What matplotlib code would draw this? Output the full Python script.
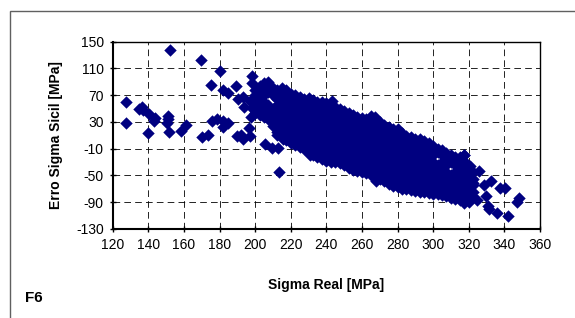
import matplotlib.pyplot as plt
from matplotlib.patches import Rectangle
from matplotlib.ticker import MultipleLocator

plt.rcParams['font.family'] = ['Liberation Sans', 'DejaVu Sans']
plt.rcParams['axes.unicode_minus'] = False

# dense band: Sigma Real columns and the Erro values read in each column
col_x = [200, 202.5, 205, 207.5, 210, 212.5, 215, 217.5, 220, 222.5,
         225, 227.5, 230, 232.5, 235, 237.5, 240, 242.5, 245, 247.5,
         250, 252.5, 255, 257.5, 260, 262.5, 265, 267.5, 270, 272.5,
         275, 277.5, 280, 282.5, 285, 287.5, 290, 292.5, 295, 297.5,
         300, 302.5, 305, 307.5, 310, 312.5, 315, 317.5, 320, 322.5]
col_y = [
    [44, 50, 60, 70, 78],
    [40, 45, 55, 65, 75, 84],
    [37, 40, 50, 60, 70, 80, 88],
    [34, 45, 55, 75, 85, 90],
    [24, 30, 40, 50, 70, 80],
    [10, 15, 25, 35, 45, 55, 65, 75, 78],
    [7, 10, 20, 30, 40, 50, 60, 70, 80],
    [3, 5, 15, 25, 35, 45, 55, 65, 75, 77],
    [-2, 0, 10, 20, 30, 40, 50, 60, 70, 72],
    [-4, 5, 15, 25, 35, 45, 55, 65, 70],
    [-7, 0, 10, 20, 30, 40, 50, 60, 68],
    [-10, -5, 5, 15, 25, 35, 45, 55, 65],
    [-17, -10, 0, 10, 20, 30, 40, 50, 60, 66],
    [-20, -15, -5, 5, 15, 25, 35, 45, 55, 63],
    [-22, -20, -10, 0, 10, 20, 30, 40, 50, 60],
    [-25, -15, -5, 5, 15, 25, 35, 45, 55, 60],
    [-28, -20, -10, 0, 10, 20, 30, 40, 50, 58],
    [-30, -25, -15, -5, 5, 15, 25, 35, 45, 55],
    [-30, -20, -10, 0, 10, 20, 30, 40, 50, 53],
    [-32, -25, -15, -5, 5, 15, 25, 35, 45, 50],
    [-35, -30, -20, -10, 0, 10, 20, 30, 40, 47],
    [-39, -35, -25, -15, -5, 5, 15, 25, 35, 44],
    [-42, -40, -30, -20, -10, 0, 10, 20, 30, 41],
    [-44, -35, -25, -15, -5, 5, 15, 25, 35, 38],
    [-45, -40, -30, -20, -10, 0, 10, 20, 30, 36],
    [-47, -45, -35, -25, -15, -5, 5, 15, 25, 35],
    [-49, -40, -30, -20, -10, 0, 10, 20, 30, 39],
    [-52, -45, -35, -25, -15, -5, 5, 15, 25, 35, 38],
    [-56, -50, -40, -30, -20, -10, 0, 10, 20, 30],
    [-59, -55, -45, -35, -25, -15, -5, 5, 15, 25],
    [-63, -60, -50, -40, -30, -20, -10, 0, 10, 20, 22],
    [-66, -55, -45, -35, -25, -15, -5, 5, 15, 20],
    [-68, -60, -50, -40, -30, -20, -10, 0, 10, 18],
    [-70, -65, -55, -45, -35, -25, -15, -5, 5, 14],
    [-71, -60, -50, -40, -30, -20, -10, 0, 9],
    [-72, -65, -55, -45, -35, -25, -15, -5, 5, 7],
    [-74, -70, -60, -50, -40, -30, -20, -10, 0, 4],
    [-75, -65, -55, -45, -35, -25, -15, -5, 4],
    [-75, -70, -60, -50, -40, -30, -20, -10, 0, 2],
    [-76, -65, -55, -45, -35, -25, -15, -5, -1],
    [-78, -70, -60, -50, -40, -30, -20, -10, -6],
    [-78, -65, -55, -45, -35, -15, -10],
    [-79, -70, -60, -50, -40, -30, -20, -12],
    [-80, -75, -65, -55, -45, -35, -25, -16],
    [-83, -80, -70, -60, -50, -30, -20],
    [-85, -75, -65, -55, -45, -35, -23],
    [-87, -80, -70, -60, -50, -40, -30, -22],
    [-91, -85, -75, -65, -55, -45, -35, -28, -19],
    [-90, -80, -70, -60, -50, -40, -36],
    [-82, -75, -65, -55, -45],
]

# scattered points outside the band
out_x = [127.5, 127.5, 135, 136.5, 137, 140.5, 143.5, 143, 140, 151,
         151.3, 150.5, 151.5, 152, 158.3, 161.2, 169.5, 170, 173.8, 175,
         175.6, 178.8, 180.5, 181.8, 184.6, 182.2, 185, 181.8, 189.2, 190.5,
         193, 194, 197.2, 198.3, 190, 193, 192, 196.3, 197.2, 198.3,
         198.3, 197.5, 205.5, 209.3, 213, 215.8, 213.5, 243, 268, 231,
         280, 317.3, 325.5, 328.5, 332.7, 329.6, 330.6, 331.6, 335.8, 342,
         337.8, 340.5, 347, 348, 322.4, 324.5, 320.5]
out_y = [60, 29, 49, 52, 48, 42, 36, 31, 13, 39,
         34, 28, 15, 138, 16, 26, 122, 8, 11, 85,
         32, 35, 106, 78, 73, 31, 28, 22, 84, 65,
         68, 53, 61, 51, 9, 4, 11, 21, 9, 98,
         88, 38, -3, -9, -9, 4, -45, 62, -59, -20,
         20, -19, -44, -65, -59, -81, -95, -100, -106, -111,
         -69, -69, -89, -84, -61, -86, -36]

xs = []
ys = []
for x, col in zip(col_x, col_y):
    for y in col:
        xs.append(x)
        ys.append(y)
xs += out_x
ys += out_y

fig = plt.figure(figsize=(5.75, 3.18), dpi=100)
fig.patches.append(Rectangle((10 / 575, -0.2), 1.5, 0.2 + 307 / 318,
                             transform=fig.transFigure, fill=False,
                             edgecolor='#606060', linewidth=1.0))

ax = fig.add_axes([0.196, 0.280, 0.743, 0.589])
ax.scatter(xs, ys, marker='D', s=40, color='#000080', linewidths=0, zorder=3)

ax.set_xlim(120, 360)
ax.set_ylim(-130, 150)
ax.xaxis.set_major_locator(MultipleLocator(20))
ax.set_yticks([-130, -90, -50, -10, 30, 70, 110, 150])
ax.grid(True, color='black', linestyle=(0, (8, 5)), linewidth=0.6)
ax.set_axisbelow(True)

for side in ['left', 'bottom']:
    ax.spines[side].set_linewidth(1.5)
for side in ['top', 'right']:
    ax.spines[side].set_linewidth(1.0)

ax.tick_params(direction='inout', length=5, width=1, labelsize=10, pad=4)

ax.set_xlabel('Sigma Real [MPa]', fontsize=10, fontweight='bold', labelpad=19)
ax.set_ylabel('Erro Sigma Sicil [MPa]', fontsize=10, fontweight='bold', labelpad=9)
fig.text(25 / 575, 1 - 298 / 318, 'F6', fontsize=11, fontweight='bold', va='center')

fig.savefig('out.png', dpi=100)
